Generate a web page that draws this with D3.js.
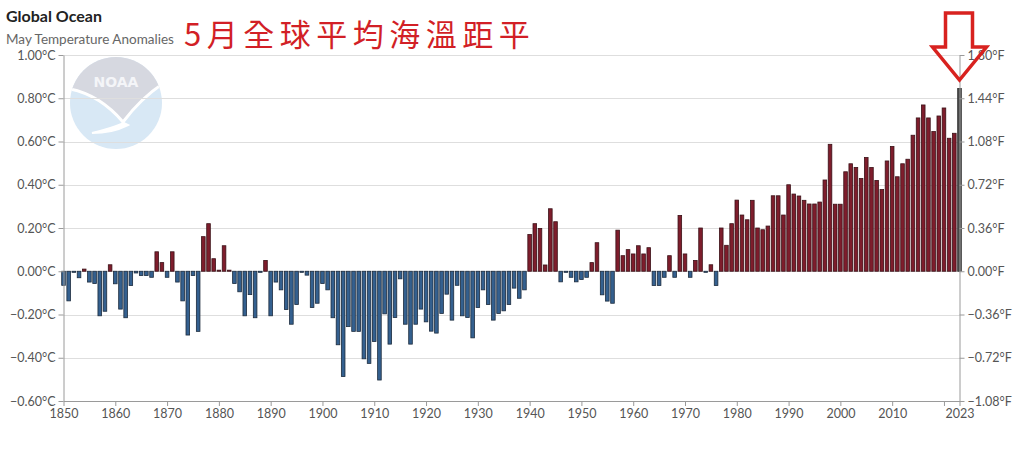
<!DOCTYPE html>
<html>
<head>
<meta charset="utf-8">
<script src="https://cdn.jsdelivr.net/npm/d3@7"></script>
<style>
	body { margin: 0; background: #fff; }
	svg { display: block; font-family: Lato, "Open Sans", sans-serif; }
</style>
</head>
<body>
<div id="chart"></div>
<script>
// May global ocean temperature anomalies (°C), 1850-2023
const firstYear = 1850;
const anomalies = [
	-0.065, -0.137, -0.005, -0.03, 0.01, -0.05, -0.057, -0.206, -0.185, 0.03, // 1850s
	-0.058, -0.175, -0.215, -0.066, -0.008, -0.02, -0.02, -0.028, 0.09, 0.04, // 1860s
	-0.028, 0.09, -0.05, -0.137, -0.295, -0.02, -0.278, 0.16, 0.22, 0.058, // 1870s
	0.005, 0.118, 0.005, -0.057, -0.095, -0.206, -0.108, -0.215, -0.005, 0.05, // 1880s
	-0.206, -0.05, -0.086, -0.177, -0.245, -0.154, -0.005, -0.018, -0.168, -0.148, // 1890s
	-0.057, -0.086, -0.215, -0.34, -0.487, -0.256, -0.278, -0.278, -0.405, -0.426, // 1900s
	-0.325, -0.503, -0.197, -0.337, -0.214, -0.035, -0.245, -0.337, -0.245, -0.175, // 1910s
	-0.234, -0.277, -0.286, -0.195, -0.106, -0.226, -0.065, -0.206, -0.214, -0.308, // 1920s
	-0.168, -0.086, -0.154, -0.226, -0.195, -0.183, -0.154, -0.078, -0.125, -0.086, // 1930s
	0.17, 0.22, 0.198, 0.029, 0.289, 0.229, -0.049, -0.005, -0.028, -0.049, // 1940s
	-0.038, -0.028, 0.04, 0.132, -0.109, -0.138, -0.148, 0.19, 0.072, 0.1, // 1950s
	0.08, 0.118, 0.08, 0.109, -0.066, -0.066, -0.028, 0.072, -0.028, 0.258, // 1960s
	0.08, -0.028, 0.05, 0.2, -0.005, 0.03, -0.066, 0.2, 0.12, 0.22, // 1970s
	0.329, 0.26, 0.238, 0.328, 0.2, 0.192, 0.209, 0.349, 0.349, 0.26, // 1980s
	0.4, 0.357, 0.348, 0.328, 0.311, 0.311, 0.32, 0.422, 0.587, 0.31, // 1990s
	0.31, 0.46, 0.497, 0.48, 0.429, 0.526, 0.48, 0.42, 0.378, 0.51, // 2000s
	0.577, 0.437, 0.497, 0.518, 0.629, 0.709, 0.769, 0.709, 0.646, 0.718, // 2010s
	0.755, 0.615, 0.638, 0.845 // 2020s
];
const celsiusTicks = [-0.6, -0.4, -0.2, 0, 0.2, 0.4, 0.6, 0.8, 1.0];
const yearTicks = [1850, 1860, 1870, 1880, 1890, 1900, 1910, 1920, 1930, 1940, 1950, 1960, 1970, 1980, 1990, 2000, 2010, 2020, 2023];
const hiddenYearLabels = [2020];

const data = anomalies.map((v, i) => ({ year: firstYear + i, value: v }));
const lastYear = data[data.length - 1].year;

const width = 1024;
const height = 461;

const svg = d3.select("#chart").append("svg")
	.attr("width", width)
	.attr("height", height)
	.attr("viewBox", [0, 0, width, height]);

const x = d3.scaleLinear().domain([firstYear, lastYear]).range([63.5, 959.5]);
const y = d3.scaleLinear().domain([-0.6, 1.0]).range([401, 55]);

// NOAA watermark
const logo = svg.append("g").attr("transform", "translate(116,103)");
logo.append("clipPath").attr("id", "logo-clip")
	.append("circle").attr("r", 46);
logo.append("circle").attr("r", 46).attr("fill", "#d8e8f5");
logo.append("path")
	.attr("clip-path", "url(#logo-clip)")
	.attr("d", "M-50,-50 L50,-50 L50,-18 Q28,-10 7,19 Q-14,-8 -50,-16 Z")
	.attr("fill", "#d6d8e0");
logo.append("path")
	.attr("clip-path", "url(#logo-clip)")
	.attr("d", "M-46,-14 Q-16,-8 7,19 Q26,-6 48,-20")
	.attr("fill", "none")
	.attr("stroke", "#fff")
	.attr("stroke-width", 3);
logo.append("path")
	.attr("d", "M8,20 Q-6,26 -24,30 Q-4,30 12,22 Z")
	.attr("fill", "#fff")
	.attr("stroke", "#fff")
	.attr("stroke-width", 2);
logo.append("text")
	.attr("y", -16)
	.attr("text-anchor", "middle")
	.attr("fill", "#f4f5f8")
	.attr("font-size", 14)
	.attr("font-weight", 700)
	.attr("font-family", "DejaVu Sans")
	.text("NOAA");

// grid
svg.append("g")
	.selectAll("line")
	.data(celsiusTicks)
	.join("line")
	.attr("x1", x(firstYear))
	.attr("x2", x(lastYear))
	.attr("y1", (d) => Math.round(y(d)) + 0.5)
	.attr("y2", (d) => Math.round(y(d)) + 0.5)
	.attr("stroke", "#dedede");

// bars
const barW = 3.6;
svg.append("g")
	.selectAll("rect")
	.data(data)
	.join("rect")
	.attr("x", (d) => x(d.year) - barW / 2)
	.attr("y", (d) => y(Math.max(0, d.value)))
	.attr("width", barW)
	.attr("height", (d) => Math.max(0.8, Math.abs(y(d.value) - y(0))))
	.attr("fill", (d) => d.year === lastYear ? "#4a4a4a" : d.value >= 0 ? "#7e1d2c" : "#34608f")
	.attr("stroke", (d) => d.year === lastYear ? "#2a2a2a" : d.value >= 0 ? "#3a1117" : "#1c2b3d")
	.attr("stroke-width", 0.8);

// axes
const styleAxis = (g) => {
	g.select(".domain").attr("stroke", "#9a9a9a");
	g.selectAll(".tick line").attr("stroke", "#9a9a9a");
	g.selectAll(".tick text").attr("fill", "#555").attr("font-size", 12.5).attr("font-family", "Lato, sans-serif");
};

svg.append("g")
	.attr("transform", `translate(${x(firstYear)},0)`)
	.call(d3.axisLeft(y).tickValues(celsiusTicks).tickSize(5).tickSizeOuter(0)
		.tickFormat((d) => d3.format(".2f")(d) + "°C"))
	.call(styleAxis);

svg.append("g")
	.attr("transform", `translate(${x(lastYear)},0)`)
	.call(d3.axisRight(y).tickValues(celsiusTicks).tickSize(5).tickSizeOuter(0)
		.tickFormat((d) => d3.format(".2f")(d * 1.8) + "°F"))
	.call(styleAxis);

svg.append("g")
	.attr("transform", `translate(0,${y(-0.6)})`)
	.call(d3.axisBottom(x).tickValues(yearTicks).tickSize(5).tickSizeOuter(0)
		.tickFormat((d) => hiddenYearLabels.includes(d) ? "" : String(d)))
	.call(styleAxis);

// titles
svg.append("text")
	.attr("x", 6).attr("y", 22)
	.attr("font-size", 16).attr("font-weight", 700).attr("fill", "#222")
	.text("Global Ocean");
svg.append("text")
	.attr("x", 6).attr("y", 44)
	.attr("font-size", 13.5).attr("fill", "#666")
	.text("May Temperature Anomalies");
svg.append("text")
	.attr("x", 184).attr("y", 46)
	.attr("font-size", 31)
	.attr("letter-spacing", 5.5)
	.attr("font-family", "'Noto Sans CJK TC', sans-serif")
	.attr("fill", "#d21f26")
	.text("5月全球平均海溫距平");

// arrow pointing at the latest bar
const ax = x(lastYear);
svg.append("path")
	.attr("d", `M${ax - 14},13 L${ax + 13},13 L${ax + 13},47 L${ax + 27},47 L${ax},80 L${ax - 27},47 L${ax - 14},47 Z`)
	.attr("fill", "none")
	.attr("stroke", "#d8221f")
	.attr("stroke-width", 3.5)
	.attr("stroke-linejoin", "miter");
</script>
</body>
</html>
